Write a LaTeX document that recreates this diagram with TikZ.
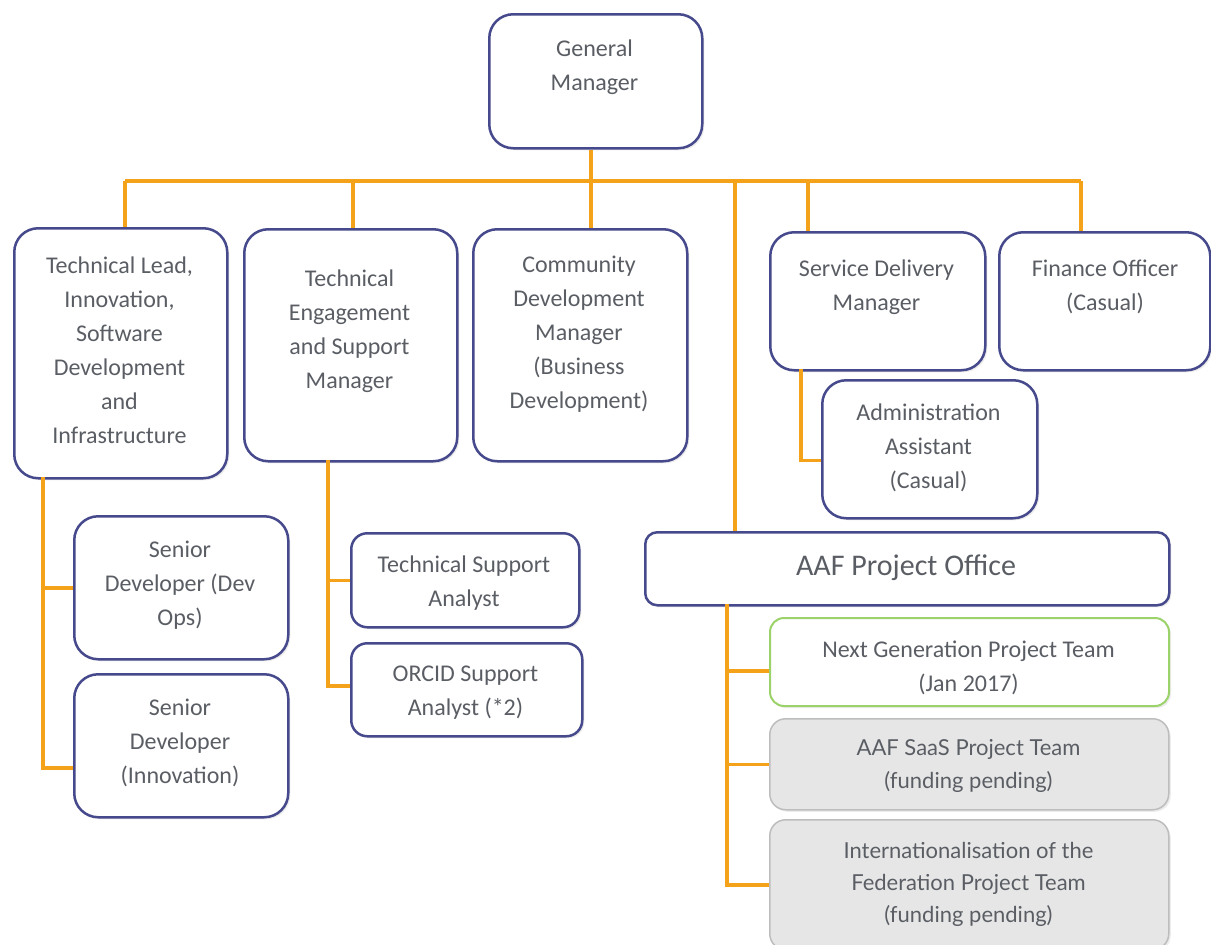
\documentclass[tikz,border=0pt]{standalone}
\usepackage{fontspec}
\setmainfont{Carlito}
\newfontfamily\gillfont{Lato}
\usetikzlibrary{shadows}
\definecolor{navy}{HTML}{464A8C}
\definecolor{amber}{HTML}{F5A21B}
\definecolor{inkgray}{HTML}{5A5E64}
\definecolor{leaf}{HTML}{9BD26A}
\definecolor{paleGray}{HTML}{E6E6E6}
\definecolor{edgeGray}{HTML}{BDBDBD}

\begin{document}
\begin{tikzpicture}[x=1pt,y=-1pt]
		\tikzset{role/.style = {draw=navy, line width=2.5pt, rounded corners=24pt, fill=white, anchor=north west,
			drop shadow={opacity=0.15, shadow xshift=2pt, shadow yshift=-2pt}}}
		\tikzset{boxsize/.style 2 args = {minimum width=#1pt, minimum height=#2pt, inner sep=0pt}}
		\tikzset{team/.style = {role, draw=edgeGray, fill=paleGray, line width=1.5pt, rounded corners=16pt}}
		\tikzset{txt/.style = {text=inkgray, align=center, inner sep=0pt, yshift=-2pt, font=\fontsize{24}{34}\selectfont}}
		\tikzset{link/.style = {draw=amber, line width=3.5pt}}

		\useasboundingbox (0,0) rectangle (1211,945);

		\node[role, boxsize={213}{134}] (gm) at (488,13) {};
		\node[role, boxsize={213}{250}] (tl) at (13,227) {};
		\node[role, boxsize={213}{232}] (te) at (243,228) {};
		\node[role, boxsize={214}{232}] (cd) at (472,228) {};
		\node[role, boxsize={215}{138}] (sd) at (769,231) {};
		\node[role, boxsize={211}{138}] (fo) at (998,231) {};
		\node[role, boxsize={215}{138}] (aa) at (821,379) {};
		\node[role, boxsize={214}{143}] (dev1) at (73,515) {};
		\node[role, boxsize={214}{143}] (dev2) at (73,673) {};
		\node[role, boxsize={228}{94}, rounded corners=16pt] (tsa) at (350,532) {};
		\node[role, boxsize={231}{93}, rounded corners=16pt] (orcid) at (350,642) {};
		\node[role, boxsize={524}{73}, rounded corners=12pt] (po) at (644,531) {};
		\node[role, boxsize={399}{88}, draw=leaf, line width=2pt, rounded corners=14pt] (ng) at (769,617) {};
		\node[team, boxsize={399}{91}] (saas) at (769,718) {};
		\node[team, boxsize={399}{130}] (intl) at (769,819) {};

		\node[txt] (gmT) at (594.5,65) {General\\Manager};
		\node[txt] (tlT) at (119.5,348.5) {Technical Lead,\\Innovation,\\Software\\Development\\and\\Infrastructure};
		\node[txt] (teT) at (349.5,329) {Technical\\Engagement\\and Support\\Manager};
		\node[txt] (cdT) at (579,332) {Community\\Development\\Manager\\(Business\\Development)};
		\node[txt] (sdT) at (876.5,285) {Service Delivery\\Manager};
		\node[txt] (foT) at (1105,285) {Finance Officer\\(Casual)};
		\node[txt] (aaT) at (928.5,446) {Administration\\Assistant\\(Casual)};
		\node[txt] (dev1T) at (180,583) {Senior\\Developer (Dev\\Ops)};
		\node[txt] (dev2T) at (180,741) {Senior\\Developer\\(Innovation)};
		\node[txt] (tsaT) at (464,581) {Technical Support\\Analyst};
		\node[txt] (orcidT) at (465.5,691) {ORCID Support\\Analyst (*2)};
		\node[txt, font=\fontsize{30}{34}\selectfont] (poT) at (906,566) {AAF Project Office};
		\node[txt] (ngT) at (968.5,666) {Next Generation Project Team\\(Jan 2017)};
		\node[txt, font=\gillfont\fontsize{22}{33}\selectfont] (saasT) at (968.5,763.5) {AAF SaaS Project Team\\(funding pending)};
		\node[txt, font=\gillfont\fontsize{22}{32}\selectfont] (intlT) at (968.5,882) {Internationalisation of the\\Federation Project Team\\(funding pending)};

		\coordinate (b1) at (125,181);
		\coordinate (b2) at (353,181);
		\coordinate (b3) at (591,181);
		\coordinate (b4) at (735,181);
		\coordinate (b5) at (808,181);
		\coordinate (b6) at (1081,181);
		\coordinate (s1) at (43,477);
		\coordinate (s2) at (328,460);
		\coordinate (s3) at (801,369);
		\coordinate (s4) at (727,604);

		\draw[link] (b1) -- (b6);
		\draw[link] (b3 |- gm.south) -- (b3 |- cd.north);
		\draw[link] (b1) -- (b1 |- tl.north);
		\draw[link] (b2) -- (b2 |- te.north);
		\draw[link] (b4) -- (b4 |- po.north);
		\draw[link] (b5) -- (b5 |- sd.north);
		\draw[link] (b6) -- (b6 |- fo.north);

		\draw[link] (s1) |- (dev1.west);
		\draw[link] (s1) |- ([yshift=-22pt]dev2.west);
		\draw[link] (s2) |- (tsa.west);
		\draw[link] (s2) |- ([yshift=4pt]orcid.west);
		\draw[link] (s3) |- ([yshift=-11pt]aa.west);
		\draw[link] (s4) |- ([yshift=-9pt]ng.west);
		\draw[link] (s4) |- (saas.west);
		\draw[link] (s4) |- (intl.west);

	\end{tikzpicture}
\end{document}
